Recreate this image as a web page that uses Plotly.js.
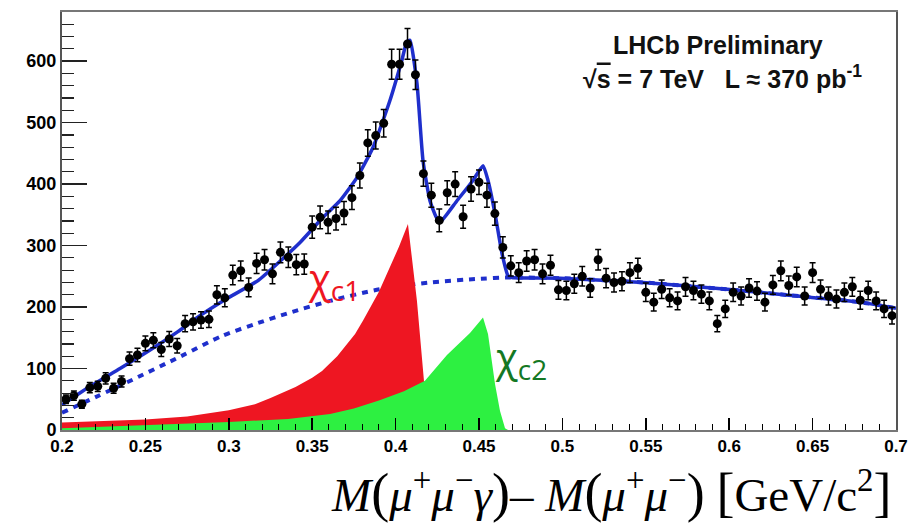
<!DOCTYPE html>
<html>
<head>
<meta charset="utf-8">
<script src="https://cdn.plot.ly/plotly-3.0.1.min.js"></script>
<style>html,body{margin:0;padding:0;background:#fff;}#plot{width:921px;height:528px;}</style>
</head>
<body>
<div id="plot"></div>
<script>
// Data points: bin centres (GeV/c^2) and candidates per bin
const dataX = [0.20238,0.20714,0.21190,0.21667,0.22143,0.22619,0.23095,0.23571,0.24048,0.24524,
0.25000,0.25476,0.25952,0.26429,0.26905,0.27381,0.27857,0.28333,0.28810,0.29286,
0.29762,0.30238,0.30714,0.31190,0.31667,0.32143,0.32619,0.33095,0.33571,0.34048,
0.34524,0.35000,0.35476,0.35952,0.36429,0.36905,0.37381,0.37857,0.38333,0.38810,
0.39286,0.39762,0.40238,0.40714,0.41190,0.41667,0.42143,0.42619,0.43095,0.43571,
0.44048,0.44524,0.45000,0.45476,0.45952,0.46429,0.46905,0.47381,0.47857,0.48333,
0.48810,0.49286,0.49762,0.50238,0.50714,0.51190,0.51667,0.52143,0.52619,0.53095,
0.53571,0.54048,0.54524,0.55000,0.55476,0.55952,0.56429,0.56905,0.57381,0.57857,
0.58333,0.58810,0.59286,0.59762,0.60238,0.60714,0.61190,0.61667,0.62143,0.62619,
0.63095,0.63571,0.64048,0.64524,0.65000,0.65476,0.65952,0.66429,0.66905,0.67381,
0.67857,0.68333,0.68810,0.69286,0.69762];
const dataY = [50,56,42,69,71,84,68,79,116,122,
141,146,131,148,137,173,176,179,180,220,
215,252,259,232,271,277,254,289,281,269,
270,330,346,338,344,353,378,414,467,479,
499,595,595,628,578,417,382,341,386,400,
347,392,403,382,352,297,267,256,275,277,
254,268,228,227,238,250,231,277,247,240,
242,256,263,224,208,229,215,210,233,227,
221,210,173,197,224,218,231,226,208,236,
259,235,249,218,256,229,218,213,224,233,
211,227,210,197,186];

// Total fit curve
const fitX = [0.2,0.2174,0.2348,0.2528,0.2695,0.2827,0.2977,0.3175,0.3325,0.3427,0.3565,0.3667,0.3769,0.3865,0.3966,0.4038,0.4068,0.4086,0.4128,0.4164,0.4206,0.4248,0.4272,0.4368,0.4464,0.4524,0.4554,0.4596,0.4638,0.4674,0.4698,0.4986,0.5483,0.5987,0.6484,0.6784,0.7];
const fitY = [41,72,100,130,160,186,212,243,279,305,346,373,411,460,536,602,632,634,564,439,373,344,340,373,406,430,406,352,287,251,248,247,240,229,216,208,198];

// Background (dotted)
const bkgX = [0.2,0.2378,0.2713,0.2959,0.3175,0.3355,0.3607,0.3906,0.4206,0.4506,0.4668,0.4986,0.5483,0.5987,0.6484,0.6784,0.7];
const bkgY = [28,76,120,153,174,190,210,229,240,246,248,247,240,229,216,208,198];

// chi_c1 (stacked, red): rising side and falling edge
const c1X = [0.2,0.225,0.25,0.275,0.3,0.3157,0.325,0.34,0.35,0.3559,0.365,0.3757,0.3805,0.39,0.3966,0.402,0.4074,0.4128,0.417,0.4182];
const c1Y = [12,14,17,22,32,42,52,70,85,96,120,156,178,225,264,298,335,210,80,0];

// chi_c2 (green)
const c2X = [0.2,0.25,0.3,0.3355,0.35,0.3607,0.375,0.39,0.405,0.4176,0.4308,0.4446,0.4524,0.4554,0.4596,0.4626,0.4656,0.4674];
const c2Y = [3,8,13,18,22,26,35,48,63,80,122,158,183,156,75,31,3,0];

const xTicks = [0.2,0.25,0.3,0.35,0.4,0.45,0.5,0.55,0.6,0.65,0.7];
const yTicks = [0,100,200,300,400,500,600];

const traces = [
  {x: bkgX, y: bkgY, type:'scatter', mode:'lines', line:{color:'#1f2fcc', width:4, dash:'6px,6px', shape:'spline', smoothing:0.8}, hoverinfo:'skip'},
  {x: c1X, y: c1Y, type:'scatter', mode:'lines', fill:'tozeroy', fillcolor:'rgb(238,22,34)', line:{width:0, color:'rgb(238,22,34)'}, hoverinfo:'skip'},
  {x: c2X, y: c2Y, type:'scatter', mode:'lines', fill:'tozeroy', fillcolor:'rgb(45,240,65)', line:{width:0, color:'rgb(45,240,65)'}, hoverinfo:'skip'},
  {x: fitX, y: fitY, type:'scatter', mode:'lines', line:{color:'#1f2fcc', width:3.5, shape:'spline', smoothing:0.5}, hoverinfo:'skip'},
  {x: dataX, y: dataY, type:'scatter', mode:'markers', marker:{color:'#000', size:9},
   error_y:{type:'sqrt', visible:true, color:'#000', thickness:1.5, width:3}}
];

const xTickFont = {family:'Liberation Sans, Arial, sans-serif', size:17, color:'#000', weight:'bold'};
const yTickFont = {family:'Liberation Sans, Arial, sans-serif', size:18, color:'#000', weight:'bold'};

const layout = {
  width:921, height:528,
  margin:{l:62, r:25, t:12, b:98},
  paper_bgcolor:'#fff', plot_bgcolor:'#fff',
  showlegend:false,
  xaxis:{range:[0.2,0.7], tickvals:xTicks, ticktext:xTicks.map(String), ticks:'inside', ticklen:12, tickwidth:1.5, tickcolor:'#000',
         minor:{dtick:0.01, tick0:0.2, ticks:'inside', ticklen:6, tickwidth:1, tickcolor:'#000'},
         showline:true, mirror:true, linecolor:'#777', linewidth:2, showgrid:false, zeroline:false,
         tickfont:xTickFont},
  yaxis:{range:[0,680], tickvals:yTicks, ticks:'inside', ticklen:25, tickwidth:1.5, tickcolor:'#222',
         minor:{dtick:20, tick0:0, ticks:'inside', ticklen:12, tickwidth:1.2, tickcolor:'#222'},
         showline:true, mirror:true, linecolor:'#555', linewidth:2, showgrid:false, zeroline:false,
         tickfont:yTickFont, ticksuffix:'\u00a0\u00a0'},
  annotations:[
    {xref:'paper', yref:'paper', x:0.787, y:0.921, xanchor:'center', yanchor:'middle', showarrow:false,
     text:'LHCb Preliminary', font:{family:'Liberation Sans, Arial, sans-serif', size:25, color:'#111', weight:'bold'}},
    {xref:'paper', yref:'paper', x:0.792, y:0.844, xanchor:'center', yanchor:'middle', showarrow:false,
     text:'√<span style="text-decoration:overline">s</span> = 7 TeV   L ≈ 370 pb<sup>-1</sup>', font:{family:'Liberation Sans, Arial, sans-serif', size:25, color:'#111', weight:'bold'}},
    {xref:'paper', yref:'paper', x:0.293, y:0.36, xanchor:'left', yanchor:'middle', showarrow:false,
     text:'χ<sub>c1</sub>', font:{family:'Open Sans, sans-serif', size:40, color:'rgb(238,22,34)'}},
    {xref:'paper', yref:'paper', x:0.517, y:0.17, xanchor:'left', yanchor:'middle', showarrow:false,
     text:'χ<sub>c2</sub>', font:{family:'Open Sans, sans-serif', size:40, color:'rgb(20,120,35)'}},
    {xref:'paper', yref:'paper', x:0.659, y:-0.15, xanchor:'center', yanchor:'middle', showarrow:false,
     text:'<i>M</i><span style="font-size:54px">(</span><i>μ</i><sup>+</sup><i>μ</i><sup>−</sup><i>γ</i><span style="font-size:54px">)</span>– <i>M</i><span style="font-size:54px">(</span><i>μ</i><sup>+</sup><i>μ</i><sup>−</sup><span style="font-size:54px">)</span> <span style="font-size:54px">[</span>GeV/c<sup>2</sup><span style="font-size:54px">]</span>',
     font:{family:'Liberation Serif, Times New Roman, serif', size:47, color:'#000'}}
  ]
};

Plotly.newPlot('plot', traces, layout, {displayModeBar:false, staticPlot:true});
</script>
</body>
</html>
